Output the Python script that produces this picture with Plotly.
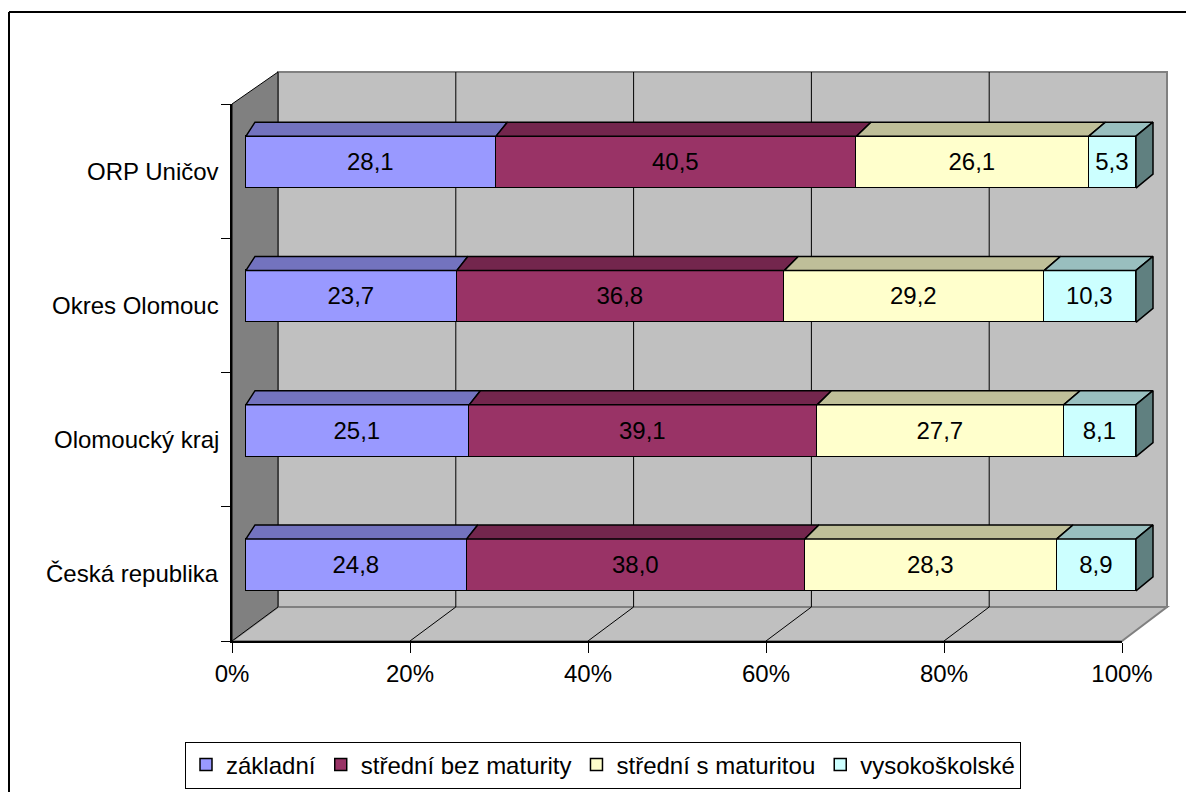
import plotly.graph_objects as go

# data (bottom -> top, as in the chart)
regions = ["Česká republika", "Olomoucký kraj", "Okres Olomouc", "ORP Uničov"]
levels = ["základní", "střední bez maturity", "střední s maturitou", "vysokoškolské"]
zakladni = [24.8, 25.1, 23.7, 28.1]
stredni_bez = [38.0, 39.1, 36.8, 40.5]
stredni_s = [28.3, 27.7, 29.2, 26.1]
vysokoskolske = [8.9, 8.1, 10.3, 5.3]
x_ticks = [0, 20, 40, 60, 80, 100]

series = [zakladni, stredni_bez, stredni_s, vysokoskolske]
front_col = ["#9999FF", "#993366", "#FFFFCC", "#CCFFFF"]
top_col = ["#7373BF", "#73264D", "#BFBF99", "#99BFBF"]
side_col = ["#4D4D80", "#4D1A33", "#808066", "#608080"]

FONT = "Liberation Sans, Arial, sans-serif"
W, H = 1186, 792


def px(x):
    return x / W


def py(y):
    return 1 - y / H


BAR_W = 0.387          # bar thickness in category units
DEPTH_Y = 0.104        # top face depth (category units)
PPU = 8.9              # pixels per percent on the bar axis


def depth_x(x):
    # slight perspective: left end shifts less than right end
    return (9 + 8 * x / 100) / PPU


fig = go.Figure()

# front faces
for name, vals, col in zip(levels, series, front_col):
    fig.add_trace(go.Bar(
        y=list(range(len(regions))), x=vals, name=name, orientation="h",
        width=BAR_W, marker=dict(color=col, line=dict(color="black", width=1.5)),
        text=[f"{v:.1f}".replace(".", ",") for v in vals],
        textposition="inside", insidetextanchor="middle", constraintext="none",
        textangle=0, textfont=dict(size=24, color="black", family=FONT),
        hoverinfo="skip",
    ))

# top faces (and right face of the last segment)
cum = [0.0] * len(regions)
for i, vals in enumerate(series):
    xs, ys = [], []
    for j, v in enumerate(vals):
        x0, x1 = cum[j], cum[j] + v
        yt = j + BAR_W / 2
        xs += [x0, x1, x1 + depth_x(x1), x0 + depth_x(x0), x0, None]
        ys += [yt, yt, yt + DEPTH_Y, yt + DEPTH_Y, yt, None]
        cum[j] = x1
    fig.add_trace(go.Scatter(x=xs, y=ys, fill="toself", fillcolor=top_col[i],
                             mode="lines", line=dict(color="black", width=1.5),
                             showlegend=False, hoverinfo="skip"))
xs, ys = [], []
for j, end in enumerate(cum):
    yb, yt = j - BAR_W / 2, j + BAR_W / 2
    d = depth_x(end)
    xs += [end, end, end + d, end + d, end, None]
    ys += [yb, yt, yt + DEPTH_Y, yb + DEPTH_Y, yb, None]
fig.add_trace(go.Scatter(x=xs, y=ys, fill="toself", fillcolor=side_col[-1],
                         mode="lines", line=dict(color="black", width=1.5),
                         showlegend=False, hoverinfo="skip"))

# walls, floor, gridlines
WL, WR, WT, WB = 278, 1167, 72, 607      # back wall
FL, FR, FB, FT = 232, 1122, 641, 104     # floor front edge / left wall front edge
shapes = [
    dict(type="line", xref="paper", yref="paper", x0=px(9), x1=1,
         y0=py(12), y1=py(12), line=dict(color="black", width=2)),
    dict(type="line", xref="paper", yref="paper", x0=px(9), x1=px(9),
         y0=py(12), y1=0, line=dict(color="black", width=2)),
    dict(type="rect", xref="paper", yref="paper", x0=px(WL), x1=px(WR),
         y0=py(WB), y1=py(WT), fillcolor="#C0C0C0",
         line=dict(color="#808080", width=2), layer="below"),
    dict(type="path", xref="paper", yref="paper",
         path=f"M{px(FL)},{py(FB)} L{px(FR)},{py(FB)} L{px(WR)},{py(WB)} L{px(WL)},{py(WB)} Z",
         fillcolor="#C0C0C0", line=dict(color="#808080", width=2), layer="below"),
    dict(type="path", xref="paper", yref="paper",
         path=f"M{px(FL)},{py(FT)} L{px(WL)},{py(WT)} L{px(WL)},{py(WB)} L{px(FL)},{py(FB)} Z",
         fillcolor="#808080", line=dict(color="black", width=1), layer="below"),
]
for t in x_ticks[1:-1]:
    xb = WL + (WR - WL) * t / 100
    xf = FL + (FR - FL) * t / 100
    shapes.append(dict(type="line", xref="paper", yref="paper", x0=px(xb), x1=px(xb),
                       y0=py(WB), y1=py(WT), line=dict(color="black", width=1),
                       layer="below"))
    shapes.append(dict(type="line", xref="paper", yref="paper", x0=px(xf), x1=px(xb),
                       y0=py(FB), y1=py(WB), line=dict(color="black", width=1),
                       layer="below"))

# category labels left of the wall
annotations = [
    dict(text=r, xref="paper", yref="y2", x=px(221), y=k + 0.5, xanchor="right",
         yanchor="middle", showarrow=False, font=dict(size=24))
    for k, r in enumerate(regions)
]

X_LO, X_HI = -1, 103
fig.update_layout(
    width=W, height=H, margin=dict(l=0, r=0, t=0, b=0),
    paper_bgcolor="white", plot_bgcolor="rgba(0,0,0,0)",
    barmode="stack", bargap=0,
    font=dict(family=FONT, size=24, color="black"),
    shapes=shapes, annotations=annotations,
    xaxis=dict(domain=[px(246 + X_LO * PPU), px(246 + X_HI * PPU)],
               range=[X_LO, X_HI], visible=False),
    yaxis=dict(domain=[py(632), py(95)], range=[-0.5, 3.5], visible=False),
    xaxis2=dict(domain=[px(FL), px(FR)], anchor="y2", range=[0, 100],
                tickvals=x_ticks, ticktext=[f"{t}%" for t in x_ticks],
                ticks="outside", ticklen=10, tickcolor="black", tickwidth=1,
                showline=True, linecolor="black", linewidth=1.5, automargin=False,
                showgrid=False, zeroline=False, tickfont=dict(size=24)),
    yaxis2=dict(domain=[py(FB), py(FT)], anchor="x2", range=[0, 4],
                tickvals=list(range(len(regions) + 1)),
                ticktext=[""] * (len(regions) + 1),
                ticks="outside", ticklen=9, tickcolor="black", tickwidth=1,
                showline=True, linecolor="black", linewidth=1.5, automargin=False,
                showgrid=False, zeroline=False),
    legend=dict(orientation="h", x=px(603), xanchor="center", y=py(765),
                yanchor="middle", bordercolor="black", borderwidth=1,
                bgcolor="white", font=dict(size=24), traceorder="normal"),
)

# drop the default body margin so the 1186x792 figure fills the window
fig.write_html("out.html", config={"displayModeBar": False},
               post_script="document.body.style.margin = '0';")
